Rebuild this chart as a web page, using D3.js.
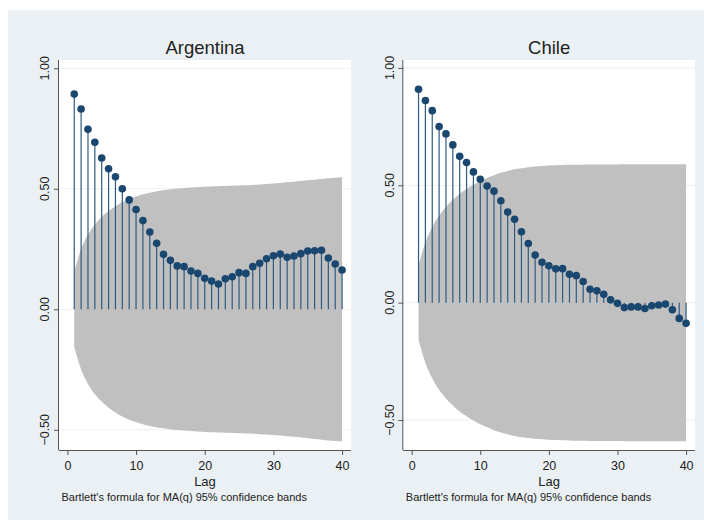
<!DOCTYPE html>
<html>
<head>
<meta charset="utf-8">
<script src="https://cdn.jsdelivr.net/npm/d3@7"></script>
<style>
  html, body { margin: 0; padding: 0; background: #ffffff; }
  svg { display: block; }
  text { font-family: "Liberation Sans", Arial, Helvetica, sans-serif; fill: #222; }
</style>
</head>
<body>
<svg id="chart" width="704" height="520"></svg>
<script>
// Autocorrelations by lag
const lags = d3.range(1, 41);
const acfArgentina = [0.893,0.831,0.747,0.693,0.628,0.583,0.550,0.500,0.454,0.414,
                      0.368,0.321,0.274,0.228,0.203,0.180,0.177,0.159,0.149,0.129,
                      0.117,0.105,0.127,0.135,0.152,0.149,0.177,0.191,0.210,0.222,
                      0.229,0.216,0.221,0.231,0.242,0.243,0.245,0.213,0.188,0.163];
const acfChile = [0.909,0.861,0.818,0.750,0.719,0.672,0.624,0.597,0.557,0.526,
                  0.497,0.475,0.434,0.386,0.355,0.302,0.252,0.203,0.172,0.157,
                  0.144,0.145,0.121,0.115,0.090,0.057,0.051,0.036,0.012,-0.003,
                  -0.021,-0.018,-0.018,-0.025,-0.013,-0.010,-0.006,-0.030,-0.067,-0.088];
// Half-width of the 95% confidence band (Bartlett) at each lag
const bandArgentina = [0.155,0.250,0.310,0.352,0.383,0.408,0.428,0.445,0.458,0.468,
                       0.477,0.484,0.490,0.494,0.498,0.501,0.503,0.505,0.507,0.509,
                       0.510,0.511,0.512,0.513,0.514,0.515,0.516,0.518,0.520,0.522,
                       0.524,0.527,0.529,0.532,0.535,0.538,0.541,0.544,0.546,0.548];
const bandChile = [0.158,0.257,0.322,0.371,0.408,0.438,0.464,0.484,0.502,0.518,
                   0.531,0.543,0.553,0.561,0.568,0.573,0.577,0.580,0.582,0.584,
                   0.585,0.586,0.587,0.588,0.588,0.589,0.589,0.589,0.589,0.589,
                   0.590,0.590,0.590,0.590,0.590,0.590,0.590,0.590,0.590,0.590];
const countries = ["Argentina", "Chile"];
const yTicks = [-0.5, 0, 0.5, 1];
const xTicks = [0, 10, 20, 30, 40];
const xLabel = "Lag";
const note = "Bartlett's formula for MA(q) 95% confidence bands";

const panels = [
  { name: countries[0], acf: acfArgentina, band: bandArgentina,
    left: 59, right: 351, top: 60, bottom: 450, yDomain: [-0.5838, 1.0344], tickX: 49 },
  { name: countries[1], acf: acfChile, band: bandChile,
    left: 403.3, right: 695, top: 60, bottom: 450, yDomain: [-0.6276, 1.0337], tickX: 394 }
];

const svg = d3.select("#chart");

// graph region background
svg.append("rect").attr("x", 8).attr("y", 10).attr("width", 696).attr("height", 510)
  .attr("fill", "#eaf0f3");

panels.forEach(p => {
  const g = svg.append("g");
  const x = d3.scaleLinear().domain([-1.22, 41.3]).range([p.left, p.right]);
  const y = d3.scaleLinear().domain(p.yDomain).range([p.bottom, p.top]);

  // plot region
  g.append("rect").attr("x", p.left).attr("y", p.top)
    .attr("width", p.right - p.left).attr("height", p.bottom - p.top)
    .attr("fill", "#ffffff");

  // horizontal grid
  g.selectAll("line.grid").data(yTicks).join("line").attr("class", "grid")
    .attr("x1", p.left).attr("x2", p.right)
    .attr("y1", d => y(d)).attr("y2", d => y(d))
    .attr("stroke", "#eaf0f3").attr("stroke-width", 1);

  // confidence band
  const bandData = lags.map((l, i) => ({ lag: l, w: p.band[i] }));
  const area = d3.area()
    .x(d => x(d.lag))
    .y0(d => y(-d.w))
    .y1(d => y(d.w))
    .curve(d3.curveMonotoneX);
  g.append("path").datum(bandData).attr("d", area).attr("fill", "#c0c0c0");

  // spikes
  const pts = lags.map((l, i) => ({ lag: l, v: p.acf[i] }));
  g.selectAll("line.spike").data(pts).join("line").attr("class", "spike")
    .attr("x1", d => x(d.lag)).attr("x2", d => x(d.lag))
    .attr("y1", y(0)).attr("y2", d => y(d.v))
    .attr("stroke", "#2e5a82").attr("stroke-width", 1.2);

  // markers
  g.selectAll("circle.pt").data(pts).join("circle").attr("class", "pt")
    .attr("cx", d => x(d.lag)).attr("cy", d => y(d.v)).attr("r", 3.8)
    .attr("fill", "#1a476f");

  // y axis
  const yAxis = d3.axisLeft(y).tickValues(yTicks).tickSize(5).tickFormat(d3.format(".2f"));
  const ya = g.append("g").attr("transform", `translate(${p.left},0)`).call(yAxis);
  ya.select(".domain").attr("d", `M-0.5,${p.top}V${p.bottom}`).attr("stroke", "#555");
  ya.selectAll(".tick line").attr("stroke", "#555");
  ya.selectAll(".tick text").remove();
  g.selectAll("text.ylab").data(yTicks).join("text").attr("class", "ylab")
    .attr("transform", d => `translate(${p.tickX},${y(d)}) rotate(-90)`)
    .attr("text-anchor", "middle").attr("font-size", "12.5px")
    .text(d => d3.format(".2f")(d));

  // x axis
  const xAxis = d3.axisBottom(x).tickValues(xTicks).tickSize(5).tickFormat(d3.format("d"));
  const xa = g.append("g").attr("transform", `translate(0,${p.bottom})`).call(xAxis);
  xa.select(".domain").attr("d", `M${p.left},0.5H${p.right}`).attr("stroke", "#555");
  xa.selectAll(".tick line").attr("stroke", "#555");
  xa.selectAll(".tick text").attr("y", 0).attr("dy", "20.2px")
    .attr("font-size", "12.5px").attr("fill", "#222")
    .attr("font-family", "'Liberation Sans', Arial, sans-serif");

  const cx = (p.left + p.right) / 2;
  // axis title
  g.append("text").attr("x", cx).attr("y", 485.5).attr("text-anchor", "middle")
    .attr("font-size", "13px").text(xLabel);
  // note
  g.append("text").attr("x", p.left + 2.5).attr("y", 500.8)
    .attr("font-size", "11px").text(note);
  // panel title
  g.append("text").attr("x", cx).attr("y", 54).attr("text-anchor", "middle")
    .attr("font-size", "18.5px").attr("fill", "#1e2a3a").text(p.name);
});
</script>
</body>
</html>
